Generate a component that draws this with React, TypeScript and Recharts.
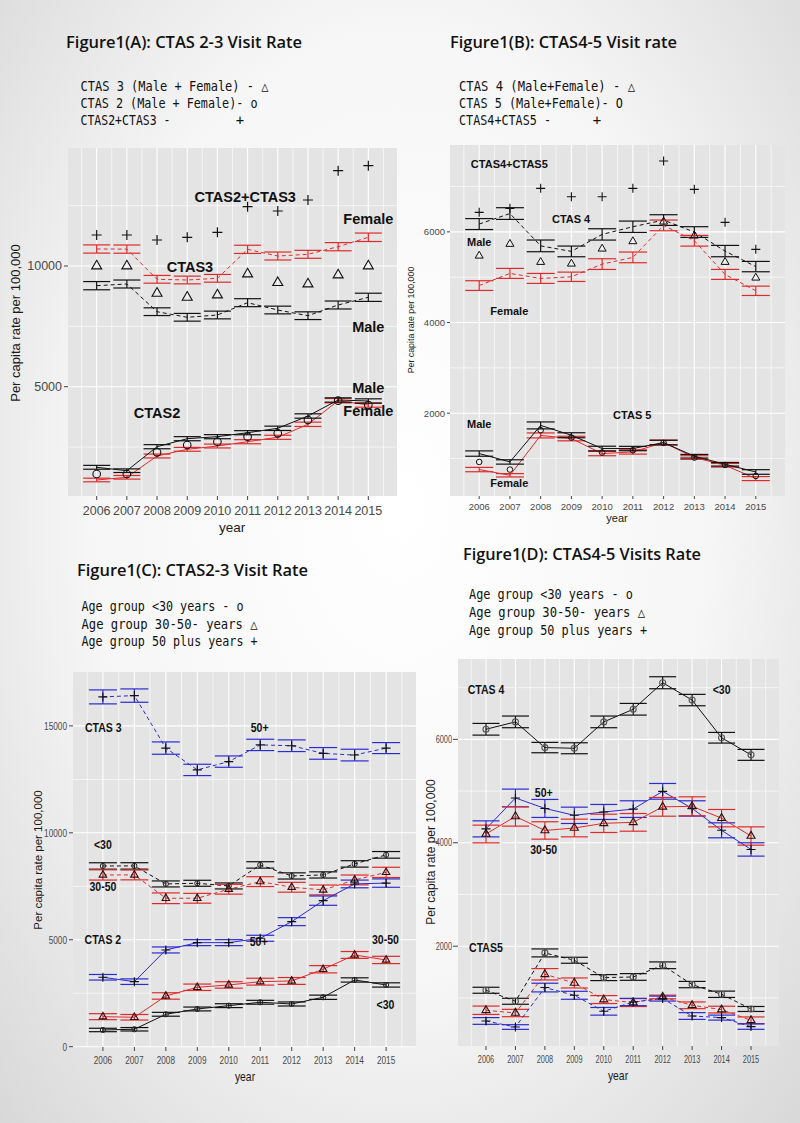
import React from 'react';
import { ComposedChart, Line, XAxis, YAxis, CartesianGrid, ErrorBar, ReferenceDot } from 'recharts';

// ---------- shared axis values ----------
const years = [2006, 2007, 2008, 2009, 2010, 2011, 2012, 2013, 2014, 2015];
const halfYears = [2005.5, 2006.5, 2007.5, 2008.5, 2009.5, 2010.5, 2011.5, 2012.5, 2013.5, 2014.5, 2015.5];

// ---------- Figure 1(A): CTAS 2-3, by sex ----------
const aCtas3Female = [10704, 10700, 9449, 9420, 9490, 10690, 10414, 10484, 10800, 11190];
const aCtas3FemaleErr = [170, 170, 160, 160, 160, 170, 165, 165, 170, 175];
const aCtas3Male = [9185, 9254, 8107, 7875, 7970, 8480, 8177, 7941, 8384, 8703];
const aCtas3MaleErr = [170, 165, 160, 160, 160, 165, 160, 160, 165, 170];
const aCtas3Both = [10000, 10000, 8869, 8703, 8798, 9668, 9309, 9254, 9627, 10000];
const aCtas23Total = [11284, 11284, 11077, 11188, 11395, 12456, 12278, 12734, 13948, 14155];
const aCtas2Male = [1661, 1520, 2514, 2846, 2929, 3094, 3276, 3786, 4449, 4407];
const aCtas2MaleErr = [80, 75, 85, 85, 85, 85, 90, 90, 90, 90];
const aCtas2Female = [1135, 1247, 2129, 2406, 2543, 2721, 2904, 3442, 4420, 4241];
const aCtas2FemaleErr = [75, 75, 80, 80, 80, 85, 85, 90, 90, 90];
const aCtas2Both = [1383, 1383, 2282, 2585, 2721, 2929, 3069, 3620, 4420, 4241];
const aYTicks = [5000, 10000];
const aYMinor = [2500, 7500, 12500];

// ---------- Figure 1(B): CTAS 4-5, by sex ----------
const bCtas4Male = [6172, 6404, 5691, 5569, 5944, 6113, 6260, 5996, 5576, 5234];
const bCtas4MaleErr = [121, 129, 129, 118, 125, 125, 118, 118, 125, 114];
const bCtas4Female = [4815, 5084, 4973, 5009, 5289, 5437, 6143, 5804, 5062, 4700];
const bCtas4FemaleErr = [107, 110, 110, 103, 118, 118, 118, 118, 110, 103];
const bCtas4Both = [5472, 5731, 5333, 5296, 5627, 5790, 6223, 5914, 5333, 4987];
const bCtas45Total = [6430, 6519, 6960, 6775, 6775, 6960, 7563, 6938, 6210, 5614];
const bCtas5Male = [1110, 925, 1731, 1514, 1221, 1221, 1353, 1051, 874, 704];
const bCtas5MaleErr = [59, 48, 77, 55, 51, 48, 50, 40, 40, 51];
const bCtas5Female = [757, 631, 1510, 1441, 1110, 1146, 1353, 1022, 852, 558];
const bCtas5FemaleErr = [48, 37, 55, 50, 48, 48, 55, 40, 40, 44];
const bCtas5Both = [925, 757, 1625, 1463, 1132, 1183, 1345, 1022, 859, 616];
const bYTicks = [2000, 4000, 6000];
const bYMinor = [1000, 3000, 5000, 7000];

// ---------- Figure 1(C): CTAS 2-3, by age ----------
const cCtas3Over50 = [16356, 16417, 13962, 12942, 13330, 14111, 14073, 13714, 13636, 13962];
const cCtas3Over50Err = [327, 312, 288, 265, 265, 265, 273, 273, 273, 257];
const cCtas3Under30 = [8450, 8452, 7610, 7641, 7516, 8499, 7984, 8031, 8546, 8970];
const cCtas3Under30Err = [150, 150, 140, 140, 140, 150, 145, 145, 150, 155];
const cCtas3Age3050 = [8031, 8031, 6940, 6940, 7362, 7718, 7455, 7329, 7797, 8150];
const cCtas3Age3050Err = [240, 230, 250, 230, 230, 230, 230, 230, 230, 240];
const cCtas2Over50 = [3246, 3040, 4523, 4865, 4865, 5070, 5847, 6829, 7610, 7650];
const cCtas2Over50Err = [130, 130, 140, 140, 140, 140, 187, 218, 180, 195];
const cCtas2Age3050 = [1403, 1375, 2371, 2778, 2886, 3040, 3073, 3620, 4289, 4055];
const cCtas2Age3050Err = [140, 130, 150, 150, 150, 160, 160, 170, 160, 170];
const cCtas2Under30 = [781, 814, 1515, 1763, 1918, 2077, 1997, 2311, 3120, 2886];
const cCtas2Under30Err = [80, 80, 90, 90, 90, 90, 95, 100, 100, 100];
const cYTicks = [0, 5000, 10000, 15000];
const cYMinor = [2500, 7500, 12500];

// ---------- Figure 1(D): CTAS 4-5, by age ----------
const dCtas4Under30 = [6195, 6338, 5841, 5828, 6338, 6582, 7095, 6760, 6031, 5700];
const dCtas4Under30Err = [113, 113, 100, 106, 113, 113, 116, 110, 103, 106];
const dCtas4Over50 = [4269, 4867, 4664, 4531, 4596, 4651, 4995, 4664, 4241, 3871];
const dCtas4Over50Err = [155, 171, 174, 158, 145, 161, 152, 148, 145, 129];
const dCtas4Age3050 = [4170, 4509, 4238, 4286, 4376, 4395, 4695, 4705, 4476, 4131];
const dCtas4Age3050Err = [171, 187, 168, 171, 177, 171, 181, 184, 168, 177];
const dCtas5Under30 = [1148, 935, 1870, 1728, 1393, 1405, 1631, 1258, 1070, 786];
const dCtas5Under30Err = [58, 58, 77, 58, 58, 65, 65, 61, 61, 48];
const dCtas5Age3050 = [761, 708, 1457, 1289, 968, 910, 1018, 857, 774, 567];
const dCtas5Age3050Err = [81, 71, 110, 97, 77, 77, 35, 65, 65, 65];
const dCtas5Over50 = [554, 437, 1200, 1051, 741, 921, 987, 650, 619, 445];
const dCtas5Over50Err = [65, 45, 84, 77, 74, 71, 48, 65, 48, 52];
const dYTicks = [2000, 4000, 6000];
const dYMinor = [1000, 3000, 5000, 7000];

// ---------- styles ----------
const RED = '#e02a2a';
const BLUE = '#2b2bd2';
const BLACK = '#111111';
const PANEL_BG = '#e4e4e4';
const ARIAL = "'Liberation Sans', Arial, sans-serif";
const MONO = "'DejaVu Sans Mono', 'Liberation Mono', monospace";
const TITLE = "'Open Sans', 'Noto Sans', sans-serif";

type Marker = { kind: 'tri' | 'circle' | 'plus'; size: number; color: string; sw: number };
type Series = { key: string; color?: string; dash?: string; err?: string; marker?: Marker };
type Note = { x: number; y: number; text: string };

function buildRows(cols: Record<string, number[]>) {
  return years.map((year, i) => {
    const r: Record<string, number> = { year };
    Object.keys(cols).forEach((k) => {
      r[k] = cols[k][i];
    });
    return r;
  });
}

function markerDot(m: Marker) {
  return (p: any) => {
    const { cx, cy, index } = p;
    if (cx == null || cy == null) return <g key={`m${index}`} />;
    if (m.kind === 'tri') {
      const s = m.size;
      const d = `M${cx},${cy - s * 0.577}L${cx + s / 2},${cy + s * 0.289}L${cx - s / 2},${cy + s * 0.289}Z`;
      return <path key={`m${index}`} d={d} fill="none" stroke={m.color} strokeWidth={m.sw} />;
    }
    if (m.kind === 'circle') {
      return <circle key={`m${index}`} cx={cx} cy={cy} r={m.size} fill="none" stroke={m.color} strokeWidth={m.sw} />;
    }
    const s = m.size;
    return (
      <path key={`m${index}`} d={`M${cx - s},${cy}H${cx + s}M${cx},${cy - s}V${cy + s}`} stroke={m.color} strokeWidth={m.sw} fill="none" />
    );
  };
}

function makeTick(axis: 'x' | 'y', fontSize: number, sx: number) {
  return (tp: any) => {
    const { x, y, payload, index } = tp;
    const isY = axis === 'y';
    return (
      <text
        key={`t${axis}${index}`}
        transform={`translate(${x},${y}) scale(${sx},1)`}
        x={0}
        y={0}
        textAnchor={isY ? 'end' : 'middle'}
        dy={isY ? '0.35em' : '0.71em'}
        fontSize={fontSize}
        fontFamily={ARIAL}
        fill="#4a4a4a"
      >
        {payload.value}
      </text>
    );
  };
}

interface PanelProps {
  left: number;
  top: number;
  width: number;
  height: number;
  margin: { top: number; right: number; bottom: number; left: number };
  yWidth: number;
  xHeight: number;
  yDomain: [number, number];
  yTicks: number[];
  yMinor: number[];
  data: any[];
  series: Series[];
  notes: Note[];
  errWidth: number;
  tickSize: number;
  tickScale: number;
  yTickSize: number;
  yTickMargin: number;
  xTickSize: number;
  xTickMargin: number;
  noteSize: number;
  noteScale: number;
}

function Panel(p: PanelProps) {
  return (
    <div style={{ position: 'absolute', left: p.left, top: p.top, width: p.width, height: p.height }}>
      <ComposedChart width={p.width} height={p.height} data={p.data} margin={p.margin}>
        <CartesianGrid fill={PANEL_BG} fillOpacity={1} stroke="#ffffff" strokeWidth={0.6} horizontalValues={p.yMinor} verticalValues={halfYears} />
        <CartesianGrid stroke="#ffffff" strokeWidth={1.1} horizontalValues={p.yTicks} verticalValues={years} />
        <XAxis
          dataKey="year"
          type="number"
          domain={[2005.05, 2015.95]}
          ticks={years}
          interval={0}
          allowDataOverflow
          height={p.xHeight}
          axisLine={false}
          tickLine={{ stroke: '#444' }}
          tickSize={p.xTickSize}
          tickMargin={p.xTickMargin}
          tick={makeTick('x', p.tickSize, p.tickScale)}
        />
        <YAxis
          type="number"
          domain={p.yDomain}
          ticks={p.yTicks}
          interval={0}
          allowDataOverflow
          width={p.yWidth}
          axisLine={false}
          tickLine={{ stroke: '#444' }}
          tickSize={p.yTickSize}
          tickMargin={p.yTickMargin}
          tick={makeTick('y', p.tickSize, p.tickScale)}
        />
        {p.series.map((s) => (
          <Line
            key={s.key}
            dataKey={s.key}
            type="linear"
            stroke={s.color ?? 'none'}
            strokeWidth={1}
            strokeDasharray={s.dash}
            dot={s.marker ? markerDot(s.marker) : false}
            activeDot={false}
            isAnimationActive={false}
            legendType="none"
          >
            {s.err ? <ErrorBar dataKey={s.err} width={p.errWidth} stroke={s.color} strokeWidth={1.2} direction="y" isAnimationActive={false} /> : null}
          </Line>
        ))}
        {p.notes.map((n, i) => (
          <ReferenceDot
            key={`n${i}`}
            x={n.x}
            y={n.y}
            r={1}
            ifOverflow="visible"
            shape={(sp: any) => (
              <text
                transform={`translate(${sp.cx},${sp.cy}) scale(${p.noteScale},1)`}
                x={0}
                y={0}
                textAnchor="middle"
                dominantBaseline="central"
                fontFamily={ARIAL}
                fontWeight={700}
                fontSize={p.noteSize}
                fill="#111"
              >
                {n.text}
              </text>
            )}
          />
        ))}
      </ComposedChart>
    </div>
  );
}

const dataA = buildRows({
  f3: aCtas3Female, f3e: aCtas3FemaleErr, m3: aCtas3Male, m3e: aCtas3MaleErr, b3: aCtas3Both, t23: aCtas23Total,
  m2: aCtas2Male, m2e: aCtas2MaleErr, f2: aCtas2Female, f2e: aCtas2FemaleErr, b2: aCtas2Both,
});
const dataB = buildRows({
  m4: bCtas4Male, m4e: bCtas4MaleErr, f4: bCtas4Female, f4e: bCtas4FemaleErr, b4: bCtas4Both, t45: bCtas45Total,
  m5: bCtas5Male, m5e: bCtas5MaleErr, f5: bCtas5Female, f5e: bCtas5FemaleErr, b5: bCtas5Both,
});
const dataC = buildRows({
  o3: cCtas3Over50, o3e: cCtas3Over50Err, u3: cCtas3Under30, u3e: cCtas3Under30Err, a3: cCtas3Age3050, a3e: cCtas3Age3050Err,
  o2: cCtas2Over50, o2e: cCtas2Over50Err, a2: cCtas2Age3050, a2e: cCtas2Age3050Err, u2: cCtas2Under30, u2e: cCtas2Under30Err,
});
const dataD = buildRows({
  u4: dCtas4Under30, u4e: dCtas4Under30Err, o4: dCtas4Over50, o4e: dCtas4Over50Err, a4: dCtas4Age3050, a4e: dCtas4Age3050Err,
  u5: dCtas5Under30, u5e: dCtas5Under30Err, a5: dCtas5Age3050, a5e: dCtas5Age3050Err, o5: dCtas5Over50, o5e: dCtas5Over50Err,
});

const notesA: Note[] = [
  { x: 2010.92, y: 12857, text: 'CTAS2+CTAS3' },
  { x: 2015.0, y: 11945, text: 'Female' },
  { x: 2009.09, y: 9959, text: 'CTAS3' },
  { x: 2015.0, y: 7473, text: 'Male' },
  { x: 2015.0, y: 4946, text: 'Male' },
  { x: 2015.0, y: 3993, text: 'Female' },
  { x: 2008.0, y: 3910, text: 'CTAS2' },
];
const notesB: Note[] = [
  { x: 2006.98, y: 7497, text: 'CTAS4+CTAS5' },
  { x: 2008.99, y: 6281, text: 'CTAS 4' },
  { x: 2006.0, y: 5775, text: 'Male' },
  { x: 2006.98, y: 4252, text: 'Female' },
  { x: 2006.0, y: 1758, text: 'Male' },
  { x: 2010.98, y: 1956, text: 'CTAS 5' },
  { x: 2006.98, y: 455, text: 'Female' },
];
const notesC: Note[] = [
  { x: 2006.01, y: 14906, text: 'CTAS 3' },
  { x: 2010.98, y: 14906, text: '50+' },
  { x: 2006.0, y: 9434, text: '<30' },
  { x: 2006.0, y: 7470, text: '30-50' },
  { x: 2006.0, y: 4991, text: 'CTAS 2' },
  { x: 2010.95, y: 4897, text: '50+' },
  { x: 2014.98, y: 4991, text: '30-50' },
  { x: 2014.98, y: 1950, text: '<30' },
];
const notesD: Note[] = [
  { x: 2006.0, y: 6971, text: 'CTAS 4' },
  { x: 2014.0, y: 6971, text: '<30' },
  { x: 2007.96, y: 4980, text: '50+' },
  { x: 2007.96, y: 3877, text: '30-50' },
  { x: 2006.0, y: 1980, text: 'CTAS5' },
];

const DASH = '4 3';

const seriesA: Series[] = [
  { key: 'f3', color: RED, dash: DASH, err: 'f3e' },
  { key: 'm3', color: BLACK, dash: DASH, err: 'm3e' },
  { key: 'f2', color: RED, err: 'f2e' },
  { key: 'm2', color: BLACK, err: 'm2e' },
  { key: 'b3', marker: { kind: 'tri', size: 10, color: '#111', sw: 1.1 } },
  { key: 'b2', marker: { kind: 'circle', size: 3.8, color: '#111', sw: 1.1 } },
  { key: 't23', marker: { kind: 'plus', size: 5, color: '#111', sw: 1.2 } },
];
const seriesB: Series[] = [
  { key: 'm4', color: BLACK, dash: DASH, err: 'm4e' },
  { key: 'f4', color: RED, dash: DASH, err: 'f4e' },
  { key: 'f5', color: RED, err: 'f5e' },
  { key: 'm5', color: BLACK, err: 'm5e' },
  { key: 'b4', marker: { kind: 'tri', size: 8, color: '#111', sw: 1 } },
  { key: 'b5', marker: { kind: 'circle', size: 2.8, color: '#111', sw: 1 } },
  { key: 't45', marker: { kind: 'plus', size: 4.5, color: '#111', sw: 1.1 } },
];
const triC: Marker = { kind: 'tri', size: 7.5, color: '#2a1010', sw: 1.1 };
const cirC: Marker = { kind: 'circle', size: 2.6, color: '#222', sw: 1 };
const plusC: Marker = { kind: 'plus', size: 4.5, color: '#111', sw: 1.1 };
const seriesC: Series[] = [
  { key: 'o3', color: BLUE, dash: DASH, err: 'o3e', marker: plusC },
  { key: 'u3', color: BLACK, dash: DASH, err: 'u3e', marker: cirC },
  { key: 'a3', color: RED, dash: DASH, err: 'a3e', marker: triC },
  { key: 'o2', color: BLUE, err: 'o2e', marker: plusC },
  { key: 'a2', color: RED, err: 'a2e', marker: triC },
  { key: 'u2', color: BLACK, err: 'u2e', marker: cirC },
];
const triD: Marker = { kind: 'tri', size: 8, color: '#2a1010', sw: 1.1 };
const cirD: Marker = { kind: 'circle', size: 3, color: '#555', sw: 1.1 };
const plusD: Marker = { kind: 'plus', size: 4.5, color: '#111', sw: 1.1 };
const seriesD: Series[] = [
  { key: 'u4', color: BLACK, err: 'u4e', marker: cirD },
  { key: 'o4', color: BLUE, err: 'o4e', marker: plusD },
  { key: 'a4', color: RED, err: 'a4e', marker: triD },
  { key: 'u5', color: BLACK, dash: DASH, err: 'u5e', marker: cirD },
  { key: 'a5', color: RED, dash: DASH, err: 'a5e', marker: triD },
  { key: 'o5', color: BLUE, dash: DASH, err: 'o5e', marker: plusD },
];

function T(props: {
  x: number; y: number; w?: number; size: number; family: string; weight?: number;
  anchor?: string; rotate?: boolean; sx?: number; fill?: string; children: React.ReactNode;
}) {
  const { x, y, w, size, family, weight, anchor, rotate, sx, fill, children } = props;
  const tf = `translate(${x},${y})${rotate ? ' rotate(-90)' : ''}${sx ? ` scale(${sx},1)` : ''}`;
  return (
    <text
      x={0}
      y={0}
      transform={tf}
      textAnchor={anchor ?? 'start'}
      dominantBaseline="central"
      fontSize={size}
      fontFamily={family}
      fontWeight={weight ?? 400}
      fill={fill ?? '#111'}
      textLength={w}
      lengthAdjust={w ? 'spacingAndGlyphs' : undefined}
    >
      {children}
    </text>
  );
}

export default function App() {
  return (
    <div
      style={{
        position: 'absolute',
        left: 0,
        top: 0,
        width: 800,
        height: 1123,
        overflow: 'hidden',
        background: 'radial-gradient(ellipse at 50% 45%, #ffffff 0%, #f6f6f6 55%, #d8d8d8 100%)',
      }}
    >
      <Panel
        left={0} top={140} width={400} height={400}
        margin={{ top: 8, right: 3, bottom: 0, left: 0 }}
        yWidth={68} xHeight={44} yDomain={[472, 14888]} yTicks={aYTicks} yMinor={aYMinor}
        data={dataA} series={seriesA} notes={notesA} errWidth={13.5}
        tickSize={12.5} tickScale={1}
        yTickSize={4} yTickMargin={2} xTickSize={4} xTickMargin={6}
        noteSize={14.5} noteScale={1}
      />
      <Panel
        left={400} top={140} width={400} height={400}
        margin={{ top: 5, right: 15, bottom: 0, left: 0 }}
        yWidth={50} xHeight={44} yDomain={[174, 7916]} yTicks={bYTicks} yMinor={bYMinor}
        data={dataB} series={seriesB} notes={notesB} errWidth={14}
        tickSize={9.5} tickScale={1}
        yTickSize={3} yTickMargin={2} xTickSize={3} xTickMargin={4}
        noteSize={11} noteScale={1}
      />
      <Panel
        left={0} top={660} width={420} height={440}
        margin={{ top: 12, right: 4, bottom: 0, left: 0 }}
        yWidth={73} xHeight={53} yDomain={[-15, 17520]} yTicks={cYTicks} yMinor={cYMinor}
        data={dataC} series={seriesC} notes={notesC} errWidth={14}
        tickSize={11} tickScale={0.75}
        yTickSize={4} yTickMargin={2} xTickSize={4} xTickMargin={5}
        noteSize={13.5} noteScale={0.78}
      />
      <Panel
        left={420} top={650} width={380} height={450}
        margin={{ top: 9, right: 21, bottom: 0, left: 0 }}
        yWidth={38} xHeight={54} yDomain={[70, 7554]} yTicks={dYTicks} yMinor={dYMinor}
        data={dataD} series={seriesD} notes={notesD} errWidth={13.5}
        tickSize={10.5} tickScale={0.7}
        yTickSize={5} yTickMargin={1} xTickSize={4} xTickMargin={6}
        noteSize={13.5} noteScale={0.78}
      />
      <svg width={800} height={1123} style={{ position: 'absolute', left: 0, top: 0, pointerEvents: 'none' }}>
        {/* titles */}
        <T x={66} y={42} w={236} size={15.5} family={TITLE} weight={600}>Figure1(A): CTAS 2-3 Visit Rate</T>
        <T x={450} y={42} w={227} size={15.5} family={TITLE} weight={600}>Figure1(B): CTAS4-5 Visit rate</T>
        <T x={77} y={570} w={231} size={15.5} family={TITLE} weight={600}>Figure1(C): CTAS2-3 Visit Rate</T>
        <T x={463} y={554} w={238} size={15.5} family={TITLE} weight={600}>Figure1(D): CTAS4-5 Visits Rate</T>

        {/* legends written as text */}
        <T x={80.5} y={86} w={188} size={14} family={MONO}>CTAS 3 (Male + Female) - △</T>
        <T x={80.5} y={103} w={177} size={14} family={MONO}>CTAS 2 (Male + Female)- o</T>
        <T x={80.5} y={120} w={90} size={14} family={MONO}>CTAS2+CTAS3 -</T>
        <T x={240} y={120} size={14} family={MONO} anchor="middle">+</T>

        <T x={459} y={86} w={176} size={14} family={MONO}>CTAS 4 (Male+Female) - △</T>
        <T x={459} y={103} w={164} size={14} family={MONO}>CTAS 5 (Male+Female)- O</T>
        <T x={459} y={120} w={92} size={14} family={MONO}>CTAS4+CTAS5 -</T>
        <T x={597} y={120} size={14} family={MONO} anchor="middle">+</T>

        <T x={81.5} y={606} w={162} size={14} family={MONO}>Age group &lt;30 years - o</T>
        <T x={81.5} y={623.5} w={176} size={14} family={MONO}>Age group 30-50- years △</T>
        <T x={81.5} y={641} w={176} size={14} family={MONO}>Age group 50 plus years +</T>

        <T x={469} y={594} w={164} size={14} family={MONO}>Age group &lt;30 years - o</T>
        <T x={469} y={611.5} w={176} size={14} family={MONO}>Age group 30-50- years △</T>
        <T x={469} y={629.5} w={178} size={14} family={MONO}>Age group 50 plus years +</T>

        {/* axis titles */}
        <T x={232} y={527} size={13.5} family={ARIAL} anchor="middle" fill="#1a1a1a">year</T>
        <T x={15} y={323} size={13} family={ARIAL} anchor="middle" rotate fill="#1a1a1a">Per capita rate per 100,000</T>

        <T x={617} y={518} size={11} family={ARIAL} anchor="middle" fill="#1a1a1a">year</T>
        <T x={411} y={320} size={8.8} family={ARIAL} anchor="middle" rotate fill="#1a1a1a">Per capita rate per 100,000</T>

        <T x={245} y={1076} size={13} family={ARIAL} anchor="middle" sx={0.8} fill="#1a1a1a">year</T>
        <T x={38} y={860} size={11.5} family={ARIAL} anchor="middle" rotate fill="#1a1a1a">Per capita rate per 100,000</T>

        <T x={618} y={1075} size={13} family={ARIAL} anchor="middle" sx={0.8} fill="#1a1a1a">year</T>
        <T x={431} y={852} size={12} family={ARIAL} anchor="middle" rotate fill="#1a1a1a">Per capita rate per 100,000</T>
      </svg>
    </div>
  );
}
